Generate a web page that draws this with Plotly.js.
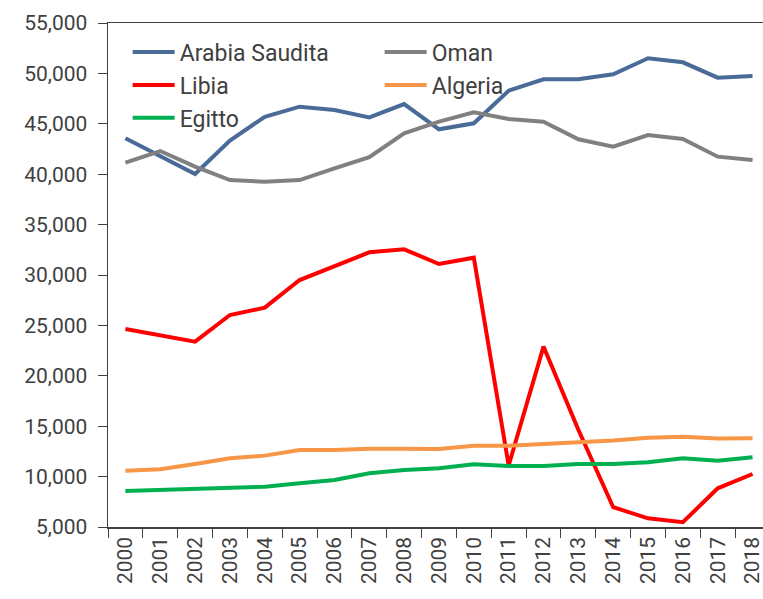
<!DOCTYPE html>
<html>
<head>
<meta charset="utf-8">
<script src="https://cdn.plot.ly/plotly-3.0.1.min.js"></script>
<style>html,body{margin:0;padding:0;background:#fff;}#chart{width:763px;height:599px;}</style>
</head>
<body>
<div id="chart"></div>
<script>
const years = ["2000","2001","2002","2003","2004","2005","2006","2007","2008","2009","2010","2011","2012","2013","2014","2015","2016","2017","2018"];
const arabiaSaudita = [43560,41800,40020,43330,45700,46700,46370,45640,46960,44450,45050,48290,49410,49410,49910,51500,51100,49580,49740];
const oman = [41140,42300,40750,39420,39260,39420,40580,41680,44060,45210,46140,45480,45210,43460,42730,43890,43490,41740,41410];
const libia = [24640,24050,23390,26030,26760,29500,30830,32250,32550,31090,31720,11100,22900,14650,6960,5860,5470,8840,10260];
const algeria = [10590,10720,11250,11820,12080,12640,12640,12770,12770,12740,13070,13070,13240,13370,13570,13860,13960,13770,13800];
const egitto = [8570,8670,8740,8840,9000,9330,9660,10330,10660,10820,11220,11050,11050,11250,11250,11420,11820,11580,11920];
const yTicks = [5000,10000,15000,20000,25000,30000,35000,40000,45000,50000,55000];

const seriesNames = ["Arabia Saudita","Oman","Libia","Algeria","Egitto"];
const seriesData = [arabiaSaudita, oman, libia, algeria, egitto];
const seriesColors = ["#4a6a98","#808080","#ff0000","#f79646","#00b050"];

const traces = seriesNames.map((n,i)=>({
  type:"scatter", mode:"lines", name:n, x:years, y:seriesData[i],
  line:{color:seriesColors[i], width:4}
}));

const font = {family:"Roboto, 'Liberation Sans', sans-serif", size:21, color:"#404040"};
const layout = {
  width:763, height:599,
  margin:{l:108, r:0, t:23, b:72},
  paper_bgcolor:"#fff", plot_bgcolor:"#fff",
  font: font,
  showlegend:true,
  legend:{orientation:"h", x:0.03, y:0.985, xanchor:"left", yanchor:"top",
    itemwidth:42, entrywidth:195, entrywidthmode:"pixels",
    font:{family:font.family, size:23, color:"#404040"},
    bgcolor:"rgba(0,0,0,0)", tracegroupgap:0},
  xaxis:{type:"category", range:[-0.5,18.3], tickson:"boundaries", ticks:"outside", ticklen:9,
    tickcolor:"#404040", showline:true, linecolor:"#404040", linewidth:1.5, mirror:true,
    showgrid:false, zeroline:false, tickangle:-90, tickfont:font, fixedrange:true},
  yaxis:{range:[5000,55000], tickvals:yTicks, tickformat:",", ticks:"outside", ticklen:9,
    ticklabelstandoff:6,
    tickcolor:"#404040", showline:true, linecolor:"#404040", linewidth:1.5,
    showgrid:false, zeroline:false, tickfont:font, fixedrange:true}
};
Plotly.newPlot("chart", traces, layout, {displayModeBar:false, staticPlot:true});
</script>
</body>
</html>
